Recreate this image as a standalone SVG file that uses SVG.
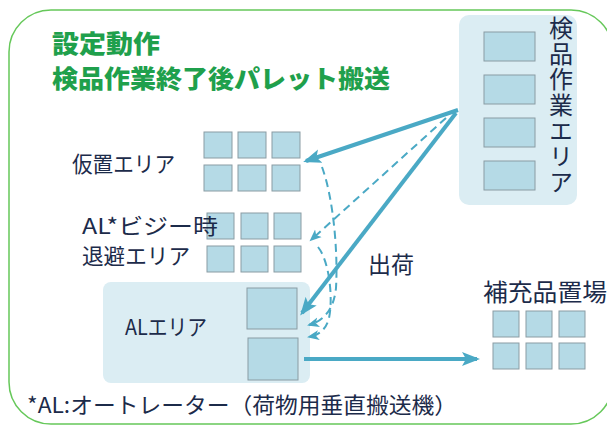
<svg xmlns="http://www.w3.org/2000/svg" width="607" height="427" viewBox="0 0 607 427">
<defs>
<style>
.t{font-family:"Noto Sans CJK JP","Noto Sans",sans-serif;fill:#1c2b4a;}
.title{font-family:"Noto Sans CJK JP","Noto Sans",sans-serif;fill:#1fa04c;font-weight:900;font-size:25px;}
.box{fill:#b5dae6;stroke:#8a9ca3;stroke-width:1;}
.area{fill:#dbedf3;stroke:none;}
.solid{fill:none;stroke:#4aa9c5;stroke-width:4;}
.dash{fill:none;stroke:#4aa9c5;stroke-width:2;stroke-dasharray:8 5;}
.vert{writing-mode:vertical-rl;}
</style>
<marker id="ah" markerUnits="userSpaceOnUse" markerWidth="20" markerHeight="16" refX="15" refY="7" orient="auto" viewBox="0 0 20 14">
<path d="M0,0 L18,7 L0,14 L4,7 z" fill="#4aa9c5"/>
</marker>
<marker id="ahs" markerUnits="userSpaceOnUse" markerWidth="14" markerHeight="12" refX="10" refY="5" orient="auto" viewBox="0 0 14 10">
<path d="M0,0 L12,5 L0,10 L3,5 z" fill="#4aa9c5"/>
</marker>
</defs>
<rect width="607" height="427" fill="#ffffff"/>
<rect x="9" y="10" width="604" height="414" rx="42" ry="42" fill="none" stroke="#66c85a" stroke-width="1.5"/>
<g id="title">
<text class="title" x="52" y="53" textLength="108" lengthAdjust="spacingAndGlyphs">設定動作</text>
<text class="title" x="52" y="88" textLength="338" lengthAdjust="spacingAndGlyphs">検品作業終了後パレット搬送</text>
</g>
<g id="inspection-area">
<rect class="area" x="459" y="15" width="118" height="190" rx="10"/>
<rect class="box" x="484" y="32" width="51" height="29"/>
<rect class="box" x="484" y="75" width="51" height="29"/>
<rect class="box" x="484" y="118" width="51" height="29"/>
<rect class="box" x="484" y="161" width="51" height="29"/>
<text class="t vert" x="561" y="16" font-size="24" letter-spacing="1.6">検品作業エリア</text>
</g>
<g id="temp-area">
<text class="t" x="72" y="172" font-size="22" textLength="103" lengthAdjust="spacingAndGlyphs">仮置エリア</text>
<rect class="box" x="204" y="132" width="28" height="26"/>
<rect class="box" x="238" y="132" width="28" height="26"/>
<rect class="box" x="272" y="132" width="28" height="26"/>
<rect class="box" x="204" y="165" width="28" height="26"/>
<rect class="box" x="238" y="165" width="28" height="26"/>
<rect class="box" x="272" y="165" width="28" height="26"/>
</g>
<g id="evac-area">
<rect class="box" x="207" y="213" width="27" height="26"/>
<rect class="box" x="241" y="213" width="27" height="26"/>
<rect class="box" x="274" y="213" width="27" height="26"/>
<rect class="box" x="207" y="246" width="27" height="26"/>
<rect class="box" x="241" y="246" width="27" height="26"/>
<rect class="box" x="274" y="246" width="27" height="26"/>
<text class="t" x="82" y="234" font-size="22" textLength="136" lengthAdjust="spacingAndGlyphs">AL*ビジー時</text>
<text class="t" x="82" y="264" font-size="22" textLength="108" lengthAdjust="spacingAndGlyphs">退避エリア</text>
</g>
<g id="al-area">
<rect class="area" x="103" y="282" width="207" height="101" rx="8"/>
<rect class="box" x="247" y="288" width="50" height="41"/>
<rect class="box" x="248" y="338" width="50" height="42"/>
<text class="t" x="125" y="335" font-size="22" textLength="82" lengthAdjust="spacingAndGlyphs">ALエリア</text>
</g>
<g id="supply-area">
<text class="t" x="483" y="301" font-size="24" textLength="124" lengthAdjust="spacingAndGlyphs">補充品置場</text>
<rect class="box" x="493" y="311" width="26" height="26"/>
<rect class="box" x="526" y="311" width="26" height="26"/>
<rect class="box" x="559" y="311" width="26" height="26"/>
<rect class="box" x="493" y="343" width="26" height="26"/>
<rect class="box" x="526" y="343" width="26" height="26"/>
<rect class="box" x="559" y="343" width="26" height="26"/>
</g>
<g id="connectors">
<line class="solid" x1="458" y1="110" x2="306" y2="161" marker-end="url(#ah)"/>
<line class="solid" x1="456" y1="113" x2="302" y2="313" marker-end="url(#ah)"/>
<line class="solid" x1="304" y1="359" x2="477" y2="359" marker-end="url(#ah)"/>
<line class="dash" x1="446" y1="118" x2="311" y2="240" marker-end="url(#ahs)"/>
<path class="dash" d="M322,167 C334,200 338,255 336,288 Q333,318 309,325" marker-end="url(#ahs)"/>
<path class="dash" d="M318,247 C330,262 333,300 329,318 Q325,334 309,337" marker-end="url(#ahs)"/>
</g>
<g id="labels">
<text class="t" x="368" y="273" font-size="23">出荷</text>
<text class="t" x="27" y="413" font-size="22" textLength="430" lengthAdjust="spacingAndGlyphs">*AL:オートレーター（荷物用垂直搬送機）</text>
</g>
</svg>
